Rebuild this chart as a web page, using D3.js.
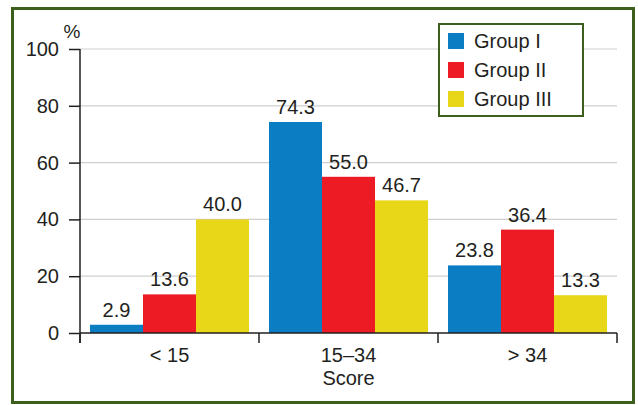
<!DOCTYPE html>
<html>
<head>
<meta charset="utf-8">
<script src="https://cdn.jsdelivr.net/npm/d3@7"></script>
<style>
  body { margin: 0; background: #fff; }
  text { font-family: "Liberation Sans", Arial, sans-serif; fill: #231f20; }
</style>
</head>
<body>
<div id="viz"></div>
<script>
// data
const categories = ['< 15', '15\u201334', '> 34'];
const groups = ['Group I', 'Group II', 'Group III'];
const groupI = [2.9, 74.3, 23.8];
const groupII = [13.6, 55.0, 36.4];
const groupIII = [40.0, 46.7, 13.3];
const yTicks = [0, 20, 40, 60, 80, 100];
const colors = ['#0a7dc3', '#ed1c24', '#e8d618'];

const series = [groupI, groupII, groupIII];
const width = 638;
const height = 405;
const fontSize = 20;
const margin = {top: 49, right: 21, bottom: 72, left: 80};
const boundedWidth = width - margin.left - margin.right;
const boundedHeight = height - margin.top - margin.bottom;

const svg = d3.select('#viz')
    .append('svg')
        .attr('width', width)
        .attr('height', height);

// green frame
svg.append('rect')
    .attr('x', 12.5).attr('y', 8.5)
    .attr('width', 621).attr('height', 394)
    .attr('fill', '#fff')
    .attr('stroke', '#3c5f1e')
    .attr('stroke-width', 3);

const viz = svg.append('g')
    .attr('transform', `translate(${margin.left}, ${margin.top})`);

// scales
const x0 = d3.scaleBand().domain(categories).range([0, boundedWidth]);
const x1 = d3.scaleBand().domain(groups).range([10, x0.bandwidth() - 10]);
const y = d3.scaleLinear().domain([0, 100]).range([boundedHeight, 0]);

// gridlines
viz.append('g')
    .selectAll('line')
    .data(yTicks.filter(d => d > 0))
    .join('line')
        .attr('x1', 0)
        .attr('x2', boundedWidth)
        .attr('y1', d => y(d))
        .attr('y2', d => y(d))
        .attr('stroke', '#cfcfcf')
        .attr('stroke-width', 1.2);

// bars
const rows = categories.flatMap((c, i) => groups.map((g, j) => ({cat: c, grp: g, value: series[j][i], color: colors[j]})));

viz.selectAll('rect.bar')
    .data(rows)
    .join('rect')
        .attr('class', 'bar')
        .attr('x', d => x0(d.cat) + x1(d.grp))
        .attr('width', x1.bandwidth())
        .attr('y', d => y(d.value))
        .attr('height', d => boundedHeight - y(d.value))
        .attr('fill', d => d.color);

viz.selectAll('text.val')
    .data(rows)
    .join('text')
        .attr('class', 'val')
        .attr('x', d => x0(d.cat) + x1(d.grp) + x1.bandwidth() / 2)
        .attr('y', d => y(d.value) - 8)
        .attr('text-anchor', 'middle')
        .attr('font-size', fontSize)
        .text(d => d.value.toFixed(1));

// y axis
const yAxis = d3.axisLeft(y)
    .tickValues(yTicks)
    .tickSize(11)
    .tickPadding(10);
const yG = viz.append('g').call(yAxis);
yG.select('.domain').attr('d', `M0,0V${boundedHeight + 10}`).attr('stroke', '#231f20').attr('stroke-width', 1.5);
yG.selectAll('.tick line').attr('stroke', '#231f20').attr('stroke-width', 1.5);
yG.selectAll('.tick text').attr('font-size', fontSize).attr('font-family', '"Liberation Sans", Arial, sans-serif').attr('fill', '#231f20');

// x axis: labels centered, ticks on band edges
const xAxis = d3.axisBottom(x0).tickSize(0).tickPadding(14.5);
const xG = viz.append('g')
    .attr('transform', `translate(0, ${boundedHeight})`)
    .call(xAxis);
xG.select('.domain').attr('d', `M0,0H${boundedWidth}`).attr('stroke', '#231f20').attr('stroke-width', 1.5);
xG.selectAll('.tick text').attr('font-size', fontSize).attr('font-family', '"Liberation Sans", Arial, sans-serif').attr('fill', '#231f20');
xG.selectAll('line.edge')
    .data(categories.map(c => x0(c)).concat([boundedWidth]))
    .join('line')
        .attr('class', 'edge')
        .attr('x1', d => d).attr('x2', d => d)
        .attr('y1', 0).attr('y2', 10)
        .attr('stroke', '#231f20')
        .attr('stroke-width', 1.5);

// axis titles
viz.append('text')
    .attr('x', -8).attr('y', -11)
    .attr('text-anchor', 'middle')
    .attr('font-size', 19)
    .text('%');

viz.append('text')
    .attr('x', boundedWidth / 2).attr('y', boundedHeight + 52)
    .attr('text-anchor', 'middle')
    .attr('font-size', fontSize)
    .text('Score');

// legend
const legend = svg.append('g').attr('transform', 'translate(439, 24)');
legend.append('rect')
    .attr('width', 144).attr('height', 92)
    .attr('fill', '#fff')
    .attr('stroke', '#3c5f1e')
    .attr('stroke-width', 2);
const items = legend.selectAll('g.item')
    .data(groups)
    .join('g')
        .attr('class', 'item')
        .attr('transform', (d, i) => `translate(9, ${17 + i * 29})`);
items.append('rect')
    .attr('y', -8).attr('width', 16).attr('height', 16)
    .attr('fill', (d, i) => colors[i]);
items.append('text')
    .attr('x', 26).attr('y', 7)
    .attr('font-size', fontSize)
    .text(d => d);
</script>
</body>
</html>
